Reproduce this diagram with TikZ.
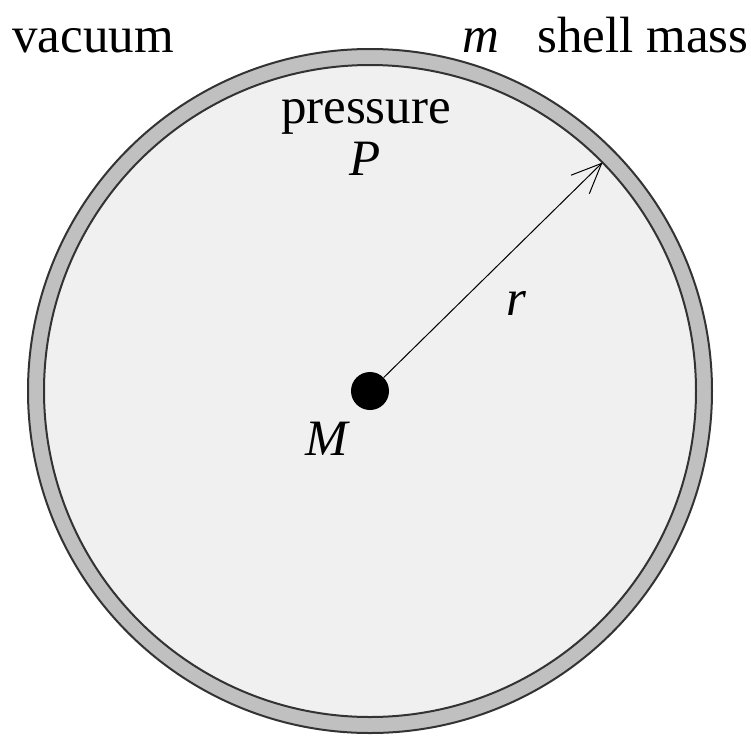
\documentclass[tikz,border=0pt]{standalone}
\usepackage{fontspec}
\setmainfont{Liberation Serif}
\usepackage{xcolor}
\usetikzlibrary{arrows.meta, calc}
\definecolor{shellGray}{HTML}{C0C0C0}
\definecolor{gasGray}{HTML}{F0F0F0}
\definecolor{edgeGray}{HTML}{333333}
\begin{document}
\begin{tikzpicture}[
        x=0.5pt, y=-0.5pt,
        lbl/.style={inner sep=0pt, anchor=base,
                    font=\fontsize{25.5}{30}\selectfont},
        ring/.style={draw=edgeGray, line width=1pt},
        arrow/.style={-{Straight Barb[length=15pt, width=13pt]}, line width=0.5pt},
      ]
        \useasboundingbox (0,0) rectangle (751,735);
        % Guscio e gas interno
        \coordinate (c) at (370,391);
        \draw[ring, fill=shellGray] (c) circle (342);
        \draw[ring, fill=gasGray] (c) circle (326);
        % Massa centrale
        \node[circle, fill=black, inner sep=0pt, minimum size=19pt] (mass) at (c) {};
        \coordinate (rim) at ($(c)+(-44.5:326)$);
        \draw[arrow] (mass) -- (rim);
        % Etichette
        \node[lbl, anchor=base west] (vac) at (12,52) {vacuum};
        \node[lbl, anchor=base west] (msym) at (462,52) {\textit{m}};
        \node[lbl, anchor=base west] (shell) at (537,52) {shell mass};
        \node[lbl] (press) at (366,123) {pressure};
        \node[lbl] (psym) at (365,175) {\textit{P}};
        \node[lbl] (rsym) at (516,315) {\textit{r}};
        \node[lbl] (Msym) at (328,455) {\textit{M}};
      \end{tikzpicture}
\end{document}
